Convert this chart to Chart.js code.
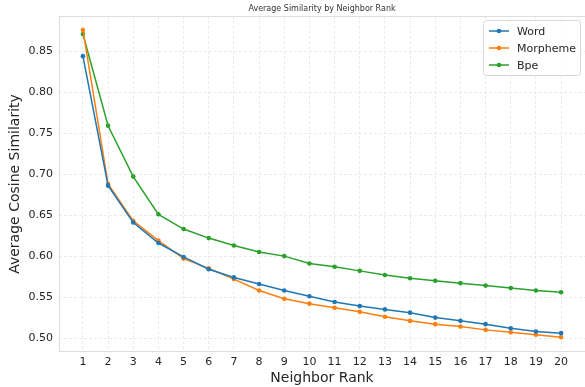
<!DOCTYPE html>
<html>
<head>
<meta charset="utf-8">
<script src="https://cdn.jsdelivr.net/npm/chart.js@4.4.0/dist/chart.umd.min.js"></script>
<style>
  html, body { margin: 0; padding: 0; background: #fff; }
  #wrap { width: 585px; height: 387px; }
</style>
</head>
<body>
<div id="wrap"><canvas id="myChart" width="585" height="387"></canvas></div>
<script>
const ranks = [1,2,3,4,5,6,7,8,9,10,11,12,13,14,15,16,17,18,19,20];
const word = [0.844,0.686,0.641,0.616,0.599,0.584,0.574,0.566,0.558,0.551,0.544,0.539,0.535,0.531,0.525,0.521,0.517,0.512,0.508,0.506];
const morpheme = [0.876,0.688,0.643,0.619,0.597,0.585,0.572,0.558,0.548,0.542,0.537,0.532,0.526,0.521,0.517,0.514,0.510,0.507,0.504,0.501];
const bpe = [0.871,0.759,0.697,0.651,0.633,0.622,0.613,0.605,0.600,0.591,0.587,0.582,0.577,0.573,0.570,0.567,0.564,0.561,0.558,0.556];
const yTicks = [0.50,0.55,0.60,0.65,0.70,0.75,0.80,0.85];
const seriesNames = ['Word','Morpheme','Bpe'];
const colors = ['#1f77b4','#ff7f0e','#2ca02c'];

function toPoints(vals) {
    return ranks.map(function(r, i) { return {x: r, y: vals[i]}; });
}

const FONT = "'DejaVu Sans', sans-serif";

// frame, title and legend box like the original figure
const extras = {
    id: 'extras',
    beforeDatasetsDraw(chart) {
        const a = chart.chartArea, c = chart.ctx;
        c.save();
        c.strokeStyle = '#dddddd';
        c.lineWidth = 1;
        c.strokeRect(a.left + 0.5, a.top + 0.5, a.right - a.left + 2, a.bottom - a.top - 1);
        c.restore();
    },
    afterDraw(chart) {
        const a = chart.chartArea, c = chart.ctx;
        c.save();
        c.fillStyle = '#333';
        c.font = '8px ' + FONT;
        c.textAlign = 'center';
        c.textBaseline = 'middle';
        c.fillText('Average Similarity by Neighbor Rank', (a.left + a.right) / 2, 9);

        // legend
        const bx = 483, by = 20, bw = 97, bh = 55;
        c.fillStyle = 'rgba(255,255,255,0.85)';
        c.strokeStyle = '#d8d8d8';
        c.lineWidth = 1;
        c.beginPath();
        c.roundRect(bx + 0.5, by + 0.5, bw, bh, 3);
        c.fill();
        c.stroke();
        c.font = '11px ' + FONT;
        c.textAlign = 'left';
        for (let i = 0; i < seriesNames.length; i++) {
            const ly = by + 11 + i * 17;
            c.strokeStyle = colors[i];
            c.lineWidth = 1.5;
            c.beginPath();
            c.moveTo(bx + 6, ly);
            c.lineTo(bx + 26, ly);
            c.stroke();
            c.fillStyle = colors[i];
            c.beginPath();
            c.arc(bx + 16, ly, 2.3, 0, Math.PI * 2);
            c.fill();
            c.fillStyle = '#262626';
            c.fillText(seriesNames[i], bx + 34, ly + 1);
        }
        c.restore();
    }
};

function noPad(scale) {
    scale.paddingLeft = 0;
    scale.paddingRight = 0;
    scale.paddingTop = 0;
    scale.paddingBottom = 0;
}

const ctx = document.getElementById('myChart').getContext('2d');
const myChart = new Chart(ctx, {
    type: 'line',
    data: {
        datasets: [
            { label: seriesNames[0], data: toPoints(word), borderColor: colors[0], backgroundColor: colors[0] },
            { label: seriesNames[1], data: toPoints(morpheme), borderColor: colors[1], backgroundColor: colors[1] },
            { label: seriesNames[2], data: toPoints(bpe), borderColor: colors[2], backgroundColor: colors[2] }
        ]
    },
    options: {
        responsive: false,
        animation: false,
        devicePixelRatio: 1,
        layout: { autoPadding: false, padding: { top: 16, right: 0, left: 0, bottom: 0 } },
        elements: {
            line: { borderWidth: 1.5, tension: 0 },
            point: { radius: 2.3, borderWidth: 0, hoverRadius: 3 }
        },
        plugins: {
            legend: { display: false },
            title: { display: false },
            tooltip: { enabled: false }
        },
        scales: {
            x: {
                type: 'linear',
                min: 0.05,
                max: 20.95,
                afterBuildTicks: function(scale) {
                    scale.ticks = ranks.map(function(v) { return {value: v}; });
                },
                afterFit: function(scale) { scale.height = 35; noPad(scale); },
                grid: { color: '#e6e6e6', lineWidth: 0.8, drawTicks: false },
                border: { display: false, dash: [3, 2] },
                ticks: {
                    color: '#262626',
                    font: { family: FONT, size: 11 },
                    padding: 4,
                    maxRotation: 0,
                    autoSkip: false,
                    callback: function(v) { return String(v); }
                },
                title: {
                    display: true,
                    text: 'Neighbor Rank',
                    color: '#262626',
                    font: { family: FONT, size: 14 },
                    padding: { top: 0, bottom: 0 }
                }
            },
            y: {
                min: 0.483,
                max: 0.893,
                afterBuildTicks: function(scale) {
                    scale.ticks = yTicks.map(function(v) { return {value: v}; });
                },
                afterFit: function(scale) { scale.width = 59; noPad(scale); },
                grid: { color: '#e6e6e6', lineWidth: 0.8, drawTicks: false },
                border: { display: false, dash: [3, 2] },
                ticks: {
                    color: '#262626',
                    font: { family: FONT, size: 11 },
                    padding: 6,
                    callback: function(v) { return v.toFixed(2); }
                },
                title: {
                    display: true,
                    text: 'Average Cosine Similarity',
                    color: '#262626',
                    font: { family: FONT, size: 14 },
                    padding: { top: 7, bottom: 0 }
                }
            }
        }
    },
    plugins: [extras]
});
</script>
</body>
</html>
